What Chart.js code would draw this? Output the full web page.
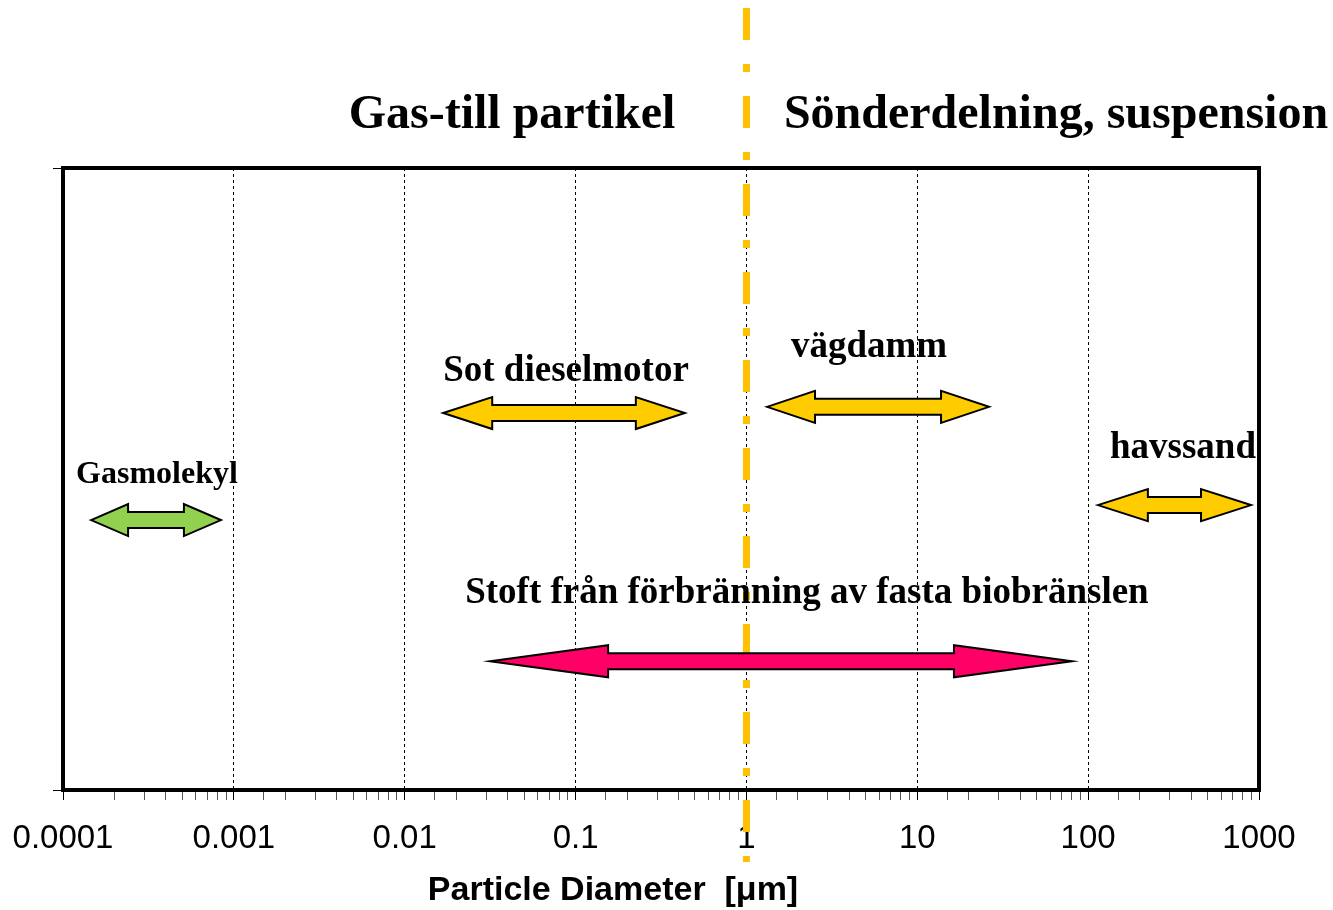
<!DOCTYPE html>
<html>
<head>
<meta charset="utf-8">
<script src="https://cdn.jsdelivr.net/npm/chart.js@4"></script>
<style>
  html, body { margin: 0; padding: 0; background: #fff; }
  #wrap { width: 1333px; height: 910px; position: relative; }
</style>
</head>
<body>
<div id="wrap"><canvas id="sizeChart"></canvas></div>
<script>
// particle size ranges (micrometres)
const rangeNames = ['Gasmolekyl', 'Sot dieselmotor', 'vägdamm', 'havssand', 'Stoft från förbränning av fasta biobränslen'];
const rangeFrom = [0.000146, 0.0168, 1.32, 114, 0.0316];
const rangeTo = [0.00084, 0.436, 26.3, 898, 80.4];
const rangeLevel = [0.434, 0.606, 0.616, 0.458, 0.207];
const rangeColors = ['#92D050', '#FFCC00', '#FFCC00', '#FFCC00', '#FF0066'];

// where each label sits (data units)
const labelX = [0.000355, 0.0879, 5.22, 359, 2.26];
const labelLevel = [0.494, 0.658, 0.696, 0.534, 0.301];

const tickLabels = ['0.0001', '0.001', '0.01', '0.1', '1', '10', '100', '1000'];
const splitValue = 1;
const leftTitle = 'Gas-till partikel';
const rightTitle = 'Sönderdelning, suspension';
const axisTitle = 'Particle Diameter  [\u03BCm]';

function isDecade(v) {
    const l = Math.log10(v);
    return Math.abs(l - Math.round(l)) < 1e-6;
}

const arrowStyle = {
    heads: [37, 49, 48, 50, 118],
    headHalf: 16,
    shaftHalf: 8,
    fonts: ['bold 32px "Liberation Serif"', 'bold 37px "Liberation Serif"', 'bold 37px "Liberation Serif"',
            'bold 37px "Liberation Serif"', 'bold 37px "Liberation Serif"']
};

const rangePlugin = {
    id: 'ranges',
    beforeDatasetsDraw(chart) {
        const ctx = chart.ctx;
        const a = chart.chartArea;
        const xs = chart.scales.x;
        // frame
        ctx.save();
        ctx.strokeStyle = '#000';
        ctx.lineWidth = 4;
        ctx.strokeRect(a.left, a.top, a.right - a.left, a.bottom - a.top);
        // split line at 1 um
        const px = xs.getPixelForValue(splitValue);
        ctx.strokeStyle = '#FFC000';
        ctx.lineWidth = 7;
        ctx.setLineDash([32, 24, 8, 24]);
        ctx.beginPath();
        ctx.moveTo(px, 8);
        ctx.lineTo(px, 862);
        ctx.stroke();
        ctx.restore();
    },
    afterDatasetsDraw(chart) {
        const ctx = chart.ctx;
        const xs = chart.scales.x;
        const ys = chart.scales.y;
        ctx.save();
        chart.data.datasets.forEach((ds, i) => {
            const pts = chart.getDatasetMeta(i).data;
            const x1 = pts[0].x, x2 = pts[1].x, y = pts[0].y;
            const h = arrowStyle.heads[i], hh = arrowStyle.headHalf, sh = arrowStyle.shaftHalf;
            ctx.beginPath();
            ctx.moveTo(x1, y);
            ctx.lineTo(x1 + h, y - hh);
            ctx.lineTo(x1 + h, y - sh);
            ctx.lineTo(x2 - h, y - sh);
            ctx.lineTo(x2 - h, y - hh);
            ctx.lineTo(x2, y);
            ctx.lineTo(x2 - h, y + hh);
            ctx.lineTo(x2 - h, y + sh);
            ctx.lineTo(x1 + h, y + sh);
            ctx.lineTo(x1 + h, y + hh);
            ctx.closePath();
            ctx.fillStyle = ds.backgroundColor;
            ctx.fill();
            ctx.lineWidth = 2;
            ctx.lineJoin = 'miter';
            ctx.strokeStyle = '#000';
            ctx.stroke();

            ctx.fillStyle = '#000';
            ctx.font = arrowStyle.fonts[i];
            ctx.textAlign = 'center';
            ctx.textBaseline = 'alphabetic';
            ctx.fillText(ds.label, xs.getPixelForValue(labelX[i]), ys.getPixelForValue(labelLevel[i]));
        });

        // headings and axis title
        ctx.font = 'bold 48px "Liberation Serif"';
        ctx.textAlign = 'center';
        ctx.fillText(leftTitle, 512, 128);
        ctx.fillText(rightTitle, 1056, 128);
        ctx.font = 'bold 34px "Liberation Sans"';
        ctx.fillText(axisTitle, 613, 900);
        ctx.restore();
    }
};

const datasets = rangeNames.map((name, i) => ({
    label: name,
    data: [{ x: rangeFrom[i], y: rangeLevel[i] }, { x: rangeTo[i], y: rangeLevel[i] }],
    backgroundColor: rangeColors[i],
    borderColor: '#000',
    showLine: false,
    pointRadius: 0
}));

new Chart(document.getElementById('sizeChart'), {
    type: 'scatter',
    data: { datasets: datasets },
    options: {
        responsive: true,
        maintainAspectRatio: false,
        animation: false,
        events: [],
        layout: { padding: { left: 53, top: 168, right: 74, bottom: 0 } },
        plugins: {
            legend: { display: false },
            tooltip: { enabled: false }
        },
        scales: {
            x: {
                type: 'logarithmic',
                min: 0.0001,
                max: 1000,
                afterFit: function(scale) {
                    scale.height = 120;
                    scale.paddingLeft = 0;
                    scale.paddingRight = 0;
                },
                grid: {
                    color: ctx => (ctx.tick && isDecade(ctx.tick.value)) ? '#000' : 'rgba(0,0,0,0)',
                    lineWidth: 1,
                    tickColor: ctx => (ctx.tick && isDecade(ctx.tick.value)) ? '#000' : '#555',
                    tickLength: 10,
                    tickBorderDash: []
                },
                border: { display: false, dash: [3, 3] },
                ticks: {
                    autoSkip: false,
                    maxRotation: 0,
                    padding: 19,
                    color: '#000',
                    font: { family: '"Liberation Sans"', size: 33 },
                    callback: function(value) {
                        if (!isDecade(value)) return '';
                        return tickLabels[Math.round(Math.log10(value)) + 4];
                    }
                }
            },
            y: {
                min: 0,
                max: 1,
                grid: { drawOnChartArea: false, tickLength: 10, tickColor: '#000' },
                border: { display: false },
                ticks: { display: false, stepSize: 1 }
            }
        }
    },
    plugins: [rangePlugin]
});
</script>
</body>
</html>
